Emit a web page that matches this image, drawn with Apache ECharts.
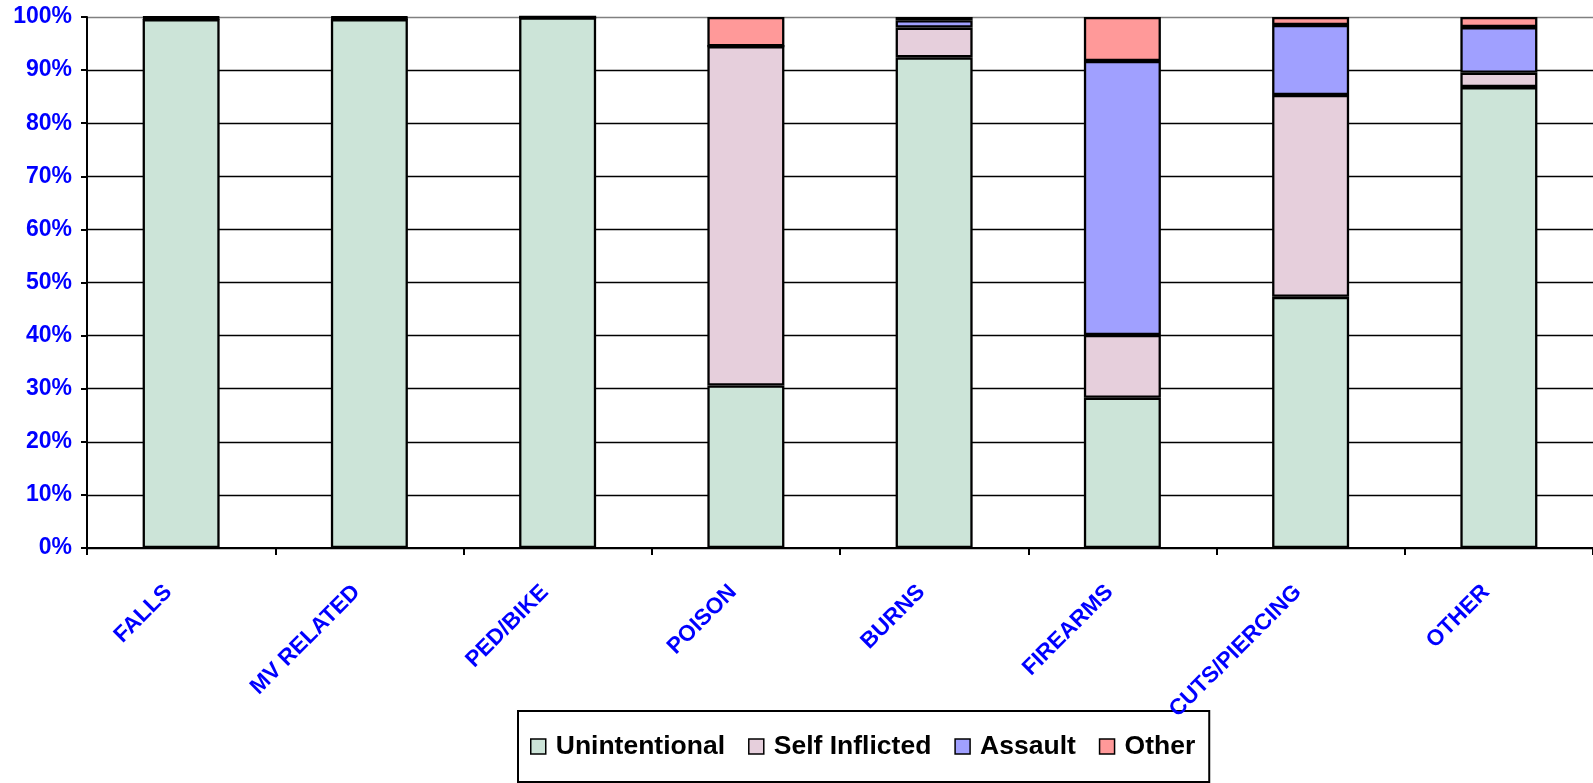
<!DOCTYPE html>
<html>
<head>
<meta charset="utf-8">
<script src="https://cdn.jsdelivr.net/npm/echarts@6/dist/echarts.min.js"></script>
<style>
html,body{margin:0;padding:0;background:#fff;}
#chart{width:1593px;height:783px;}
</style>
</head>
<body>
<div id="chart"></div>
<script>
const categories = ['FALLS','MV RELATED','PED/BIKE','POISON','BURNS','FIREARMS','CUTS/PIERCING','OTHER'];
const unintentional = [99.6, 99.6, 99.9, 30.6, 92.4, 28.3, 47.3, 86.8];
const selfInflicted = [0.1, 0.1, 0.0, 63.9, 5.6, 11.8, 38.0, 2.7];
const assault = [0.2, 0.2, 0.1, 0.0, 1.4, 51.6, 13.2, 8.6];
const other = [0.1, 0.1, 0.0, 5.5, 0.6, 8.3, 1.5, 1.9];
const seriesNames = ['Unintentional','Self Inflicted','Assault','Other'];
const colors = ['#CCE4D8','#E6CFDC','#A0A0FF','#FF9999'];
const yTicks = [0,10,20,30,40,50,60,70,80,90,100];

const chart = echarts.init(document.getElementById('chart'));
const dataSets = [unintentional, selfInflicted, assault, other];
const font = "'Liberation Sans', Arial, sans-serif";
const gridColors = yTicks.map(v => v === 100 ? '#808080' : '#000000');

chart.setOption({
  animation: false,
  backgroundColor: '#ffffff',
  grid: {left: 87, top: 17, width: 1514, height: 531, containLabel: false},
  legend: {
    left: 518, top: 711,
    z: 1,
    data: seriesNames,
    icon: 'rect',
    itemWidth: 15, itemHeight: 15,
    itemGap: 23,
    padding: [22, 14, 22, 12],
    borderColor: '#000', borderWidth: 2,
    backgroundColor: '#fff',
    textStyle: {fontFamily: font, fontWeight: 'bold', fontSize: 26.5, color: '#000', padding: [0,0,0,5]},
    itemStyle: {borderColor: '#000', borderWidth: 1.5}
  },
  xAxis: {
    type: 'category',
    z: 10,
    data: categories,
    boundaryGap: true,
    axisLine: {lineStyle: {color: '#000', width: 2}},
    axisTick: {show: true, alignWithLabel: false, inside: false, length: 7, lineStyle: {color: '#000', width: 2}},
    axisLabel: {
      interval: 0, rotate: 45, margin: 28,
      padding: [0, 18, 0, 0],
      color: '#0000FF', fontFamily: font, fontWeight: 'bold', fontSize: 22.5
    },
    splitLine: {show: false}
  },
  yAxis: {
    type: 'value', min: 0, max: 100, interval: 10,
    axisLine: {show: true, lineStyle: {color: '#000', width: 2}},
    axisTick: {show: true, length: 6, lineStyle: {color: '#000', width: 2}},
    axisLabel: {formatter: '{value}%', color: '#0000FF', fontFamily: font, fontWeight: 'bold', fontSize: 23, margin: 15},
    splitLine: {show: true, lineStyle: {color: gridColors, width: 1.3}}
  },
  series: seriesNames.map((name, i) => ({
    name: name,
    type: 'bar',
    stack: 'total',
    barWidth: 77,
    data: dataSets[i],
    itemStyle: {color: colors[i], borderColor: '#000', borderWidth: 2.3}
  }))
});
</script>
</body>
</html>
